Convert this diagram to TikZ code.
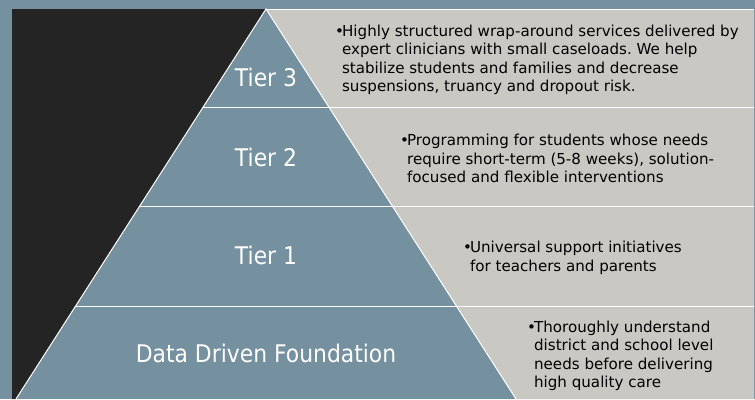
\documentclass[tikz,border=0pt]{standalone}
\usepackage{fontspec}
\newfontfamily\tierfont[FakeStretch=0.9]{DejaVu Sans}
\newfontfamily\descfont{DejaVu Sans}
\usetikzlibrary{positioning}
\definecolor{slate}{RGB}{117,144,159}
\definecolor{stone}{RGB}{202,200,195}
\definecolor{coal}{RGB}{36,36,36}
\frenchspacing

\begin{document}
\begin{tikzpicture}[x=1pt,y=-1pt,
    tier/.style={text=white, inner sep=0, anchor=base, font=\tierfont\fontsize{24.3}{29}\selectfont},
    desc/.style={text=black, inner sep=0, anchor=base west, font=\descfont\fontsize{15.1}{18.5}\selectfont}]
\useasboundingbox (0,0) rectangle (755,399);
\fill[slate] (0,0) rectangle (755,399);
\fill[coal] (12,9) -- (266,9) -- (16,399) -- (12,399) -- cycle;
\fill[stone] (266,9) -- (754,9) -- (754,399) -- (516,399) -- cycle;
\begin{scope}[white, line width=1pt]
    \draw (266,9) -- (754,9);
    \draw (16,399) -- (266,9) -- (516,399);
    \foreach \y/\x in {107.5/202.7, 206.5/139, 306/75} {\draw (\x,\y) -- (754,\y);}
\end{scope}
    \node[tier] (1) at (266,86) {Tier 3};
    \node[tier] (2) at (266,166) {Tier 2};
    \node[tier] (3) at (266,264) {Tier 1};
    \node[tier] (4) at (266,362) {Data Driven Foundation};
    \node[desc] (5) at (335,36) {\begin{tabular}[t]{@{}l@{\hspace{-2pt}}l@{}}•&Highly structured wrap-around services delivered by\\&expert clinicians with small caseloads. We help\\&stabilize students and families and decrease\\&suspensions, truancy and dropout risk.\end{tabular}};
    \node[desc] (6) at (400,145.5) {\begin{tabular}[t]{@{}l@{\hspace{-2pt}}l@{}}•&Programming for students whose needs\\&require short-term (5-8 weeks), solution-\\&focused and flexible interventions\end{tabular}};
    \node[desc] (7) at (463,252.5) {\begin{tabular}[t]{@{}l@{\hspace{-2pt}}l@{}}•&Universal support initiatives\\&for teachers and parents\end{tabular}};
    \node[desc] (8) at (527,332) {\begin{tabular}[t]{@{}l@{\hspace{-2pt}}l@{}}•&Thoroughly understand\\&district and school level\\&needs before delivering\\&high quality care\end{tabular}};
\end{tikzpicture}
\end{document}
